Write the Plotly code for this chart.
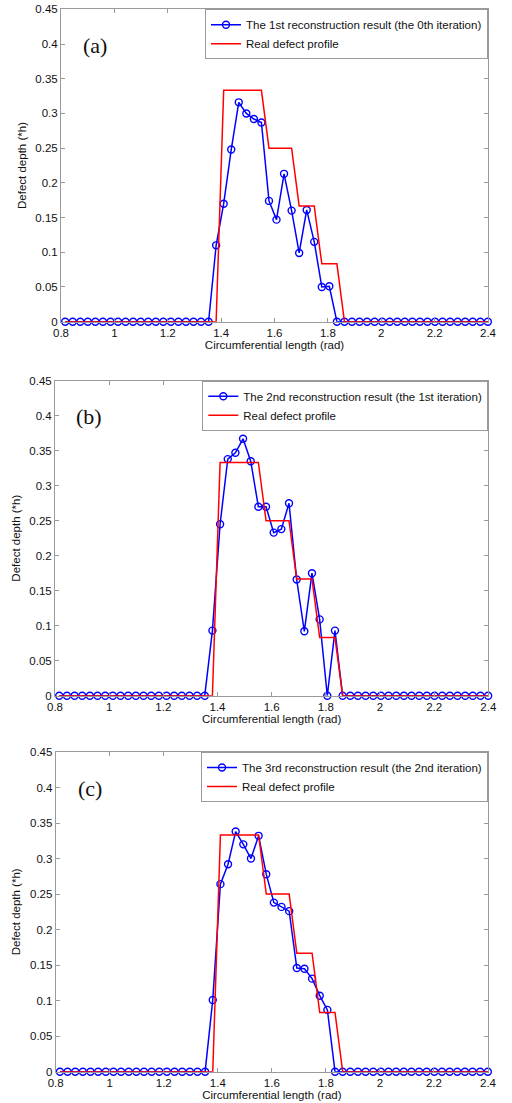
import plotly.graph_objects as go

# Circumferential sample positions (rad)
circ_pos = [
    0.8157, 0.8440, 0.8723, 0.9005, 0.9288, 0.9571, 0.9854, 1.0137, 1.0419, 1.0702,
    1.0985, 1.1268, 1.1551, 1.1833, 1.2116, 1.2399, 1.2682, 1.2965, 1.3247, 1.3530,
    1.3813, 1.4096, 1.4379, 1.4661, 1.4944, 1.5227, 1.5510, 1.5793, 1.6075, 1.6358,
    1.6641, 1.6924, 1.7207, 1.7489, 1.7772, 1.8055, 1.8338, 1.8621, 1.8903, 1.9186,
    1.9469, 1.9752, 2.0035, 2.0317, 2.0600, 2.0883, 2.1166, 2.1449, 2.1731, 2.2014,
    2.2297, 2.2580, 2.2863, 2.3145, 2.3428, 2.3711, 2.3994,
]

# Real defect profile (depth as fraction of wall thickness h)
real_profile = [
    0, 0, 0, 0, 0, 0, 0, 0, 0, 0, 0, 0, 0, 0, 0, 0, 0, 0, 0, 0,
    0, 0.3333, 0.3333, 0.3333, 0.3333, 0.3333, 0.3333, 0.25, 0.25, 0.25,
    0.25, 0.1667, 0.1667, 0.1667, 0.0833, 0.0833, 0.0833,
    0, 0, 0, 0, 0, 0, 0, 0, 0, 0, 0, 0, 0, 0, 0, 0, 0, 0, 0, 0,
]

# Reconstruction results
recon_0 = [
    0, 0, 0, 0, 0, 0, 0, 0, 0, 0, 0, 0, 0, 0, 0, 0, 0, 0, 0, 0,
    0.110, 0.170, 0.248, 0.316, 0.300, 0.292, 0.287, 0.174, 0.147, 0.213,
    0.160, 0.099, 0.161, 0.115, 0.050, 0.051, 0.000,
    0, 0, 0, 0, 0, 0, 0, 0, 0, 0, 0, 0, 0, 0, 0, 0, 0, 0, 0, 0,
]
recon_1 = [
    0, 0, 0, 0, 0, 0, 0, 0, 0, 0, 0, 0, 0, 0, 0, 0, 0, 0, 0, 0,
    0.093, 0.245, 0.338, 0.347, 0.367, 0.335, 0.270, 0.270, 0.233, 0.238,
    0.275, 0.166, 0.092, 0.175, 0.109, 0.000, 0.093,
    0, 0, 0, 0, 0, 0, 0, 0, 0, 0, 0, 0, 0, 0, 0, 0, 0, 0, 0, 0,
]
recon_2 = [
    0, 0, 0, 0, 0, 0, 0, 0, 0, 0, 0, 0, 0, 0, 0, 0, 0, 0, 0, 0,
    0.101, 0.264, 0.292, 0.338, 0.320, 0.300, 0.332, 0.278, 0.238, 0.232,
    0.226, 0.146, 0.145, 0.131, 0.107, 0.087, 0.000,
    0, 0, 0, 0, 0, 0, 0, 0, 0, 0, 0, 0, 0, 0, 0, 0, 0, 0, 0, 0,
]

recon_names = [
    "The 1st reconstruction result (the 0th iteration)",
    "The 2nd reconstruction result (the 1st iteration)",
    "The 3rd reconstruction result (the 2nd iteration)",
]
panel_labels = ["(a)", "(b)", "(c)"]

x_tickvals = [0.8, 1.0, 1.2, 1.4, 1.6, 1.8, 2.0, 2.2, 2.4]
x_ticktext = ["0.8", "1", "1.2", "1.4", "1.6", "1.8", "2", "2.2", "2.4"]
y_tickvals = [0, 0.05, 0.1, 0.15, 0.2, 0.25, 0.3, 0.35, 0.4, 0.45]
y_ticktext = ["0", "0.05", "0.1", "0.15", "0.2", "0.25", "0.3", "0.35", "0.4", "0.45"]

W, H = 512, 1103
# pixel boxes of each axes: (left, right, top, bottom)
boxes = [
    (61, 488, 9.3, 321.7),
    (55, 488.3, 380.7, 695.7),
    (55.7, 488, 752, 1071.7),
]

FONT = "Liberation Sans, Arial, sans-serif"
AXCOL = "#9a9a9a"

fig = go.Figure()
layout = dict(
    template="none",
    width=W, height=H,
    margin=dict(l=0, r=0, t=0, b=0, pad=0),
    paper_bgcolor="white", plot_bgcolor="white",
    font=dict(family=FONT, size=11, color="#111"),
    showlegend=True,
    annotations=[],
)

for i, recon in enumerate([recon_0, recon_1, recon_2]):
    sfx = "" if i == 0 else str(i + 1)
    leg = "legend" if i == 0 else f"legend{i + 1}"
    fig.add_trace(go.Scatter(
        x=circ_pos, y=recon, mode="lines+markers", name=recon_names[i],
        line=dict(color="#0000ff", width=1.5),
        marker=dict(symbol="circle-open", size=7, color="#0000ff", line=dict(width=1.4)),
        xaxis="x" + sfx, yaxis="y" + sfx, legend=leg, cliponaxis=False,
    ))
    fig.add_trace(go.Scatter(
        x=circ_pos, y=real_profile, mode="lines", name="Real defect profile",
        line=dict(color="#ff0000", width=1.5),
        xaxis="x" + sfx, yaxis="y" + sfx, legend=leg, cliponaxis=False,
    ))

    l, r, t, b = boxes[i]
    common = dict(
        showline=True, linecolor=AXCOL, linewidth=1, mirror="ticks",
        ticks="inside", ticklen=4, tickcolor=AXCOL, tickwidth=1,
        showgrid=False, zeroline=False, automargin=False,
        tickfont=dict(family=FONT, size=11.5, color="#111"),
    )
    layout["xaxis" + sfx] = dict(
        common, domain=[l / W, r / W], range=[0.8, 2.4],
        anchor="y" + sfx, tickvals=x_tickvals, ticktext=x_ticktext,
        title=dict(text="Circumferential length (rad)", standoff=3,
                   font=dict(family=FONT, size=11.5, color="#111")),
    )
    layout["yaxis" + sfx] = dict(
        common, domain=[1 - b / H, 1 - t / H], range=[0, 0.45],
        anchor="x" + sfx, tickvals=y_tickvals, ticktext=y_ticktext,
        title=dict(text="Defect depth (*h)", standoff=6,
                   font=dict(family=FONT, size=11.5, color="#111")),
    )
    layout[leg] = dict(
        x=r / W, y=1 - t / H, xanchor="right", yanchor="top",
        xref="paper", yref="paper",
        bgcolor="white", bordercolor=AXCOL, borderwidth=1,
        font=dict(family=FONT, size=11.5, color="#111"),
        tracegroupgap=0, itemwidth=30,
    )
    layout["annotations"].append(dict(
        text=panel_labels[i], xref="paper", yref="paper",
        x=(l + 34) / W, y=1 - (t + 36) / H, xanchor="center", yanchor="middle",
        showarrow=False,
        font=dict(family="Liberation Serif, Times New Roman, serif", size=22, color="#111"),
    ))

fig.update_layout(**layout)
fig.write_html("out.html")
